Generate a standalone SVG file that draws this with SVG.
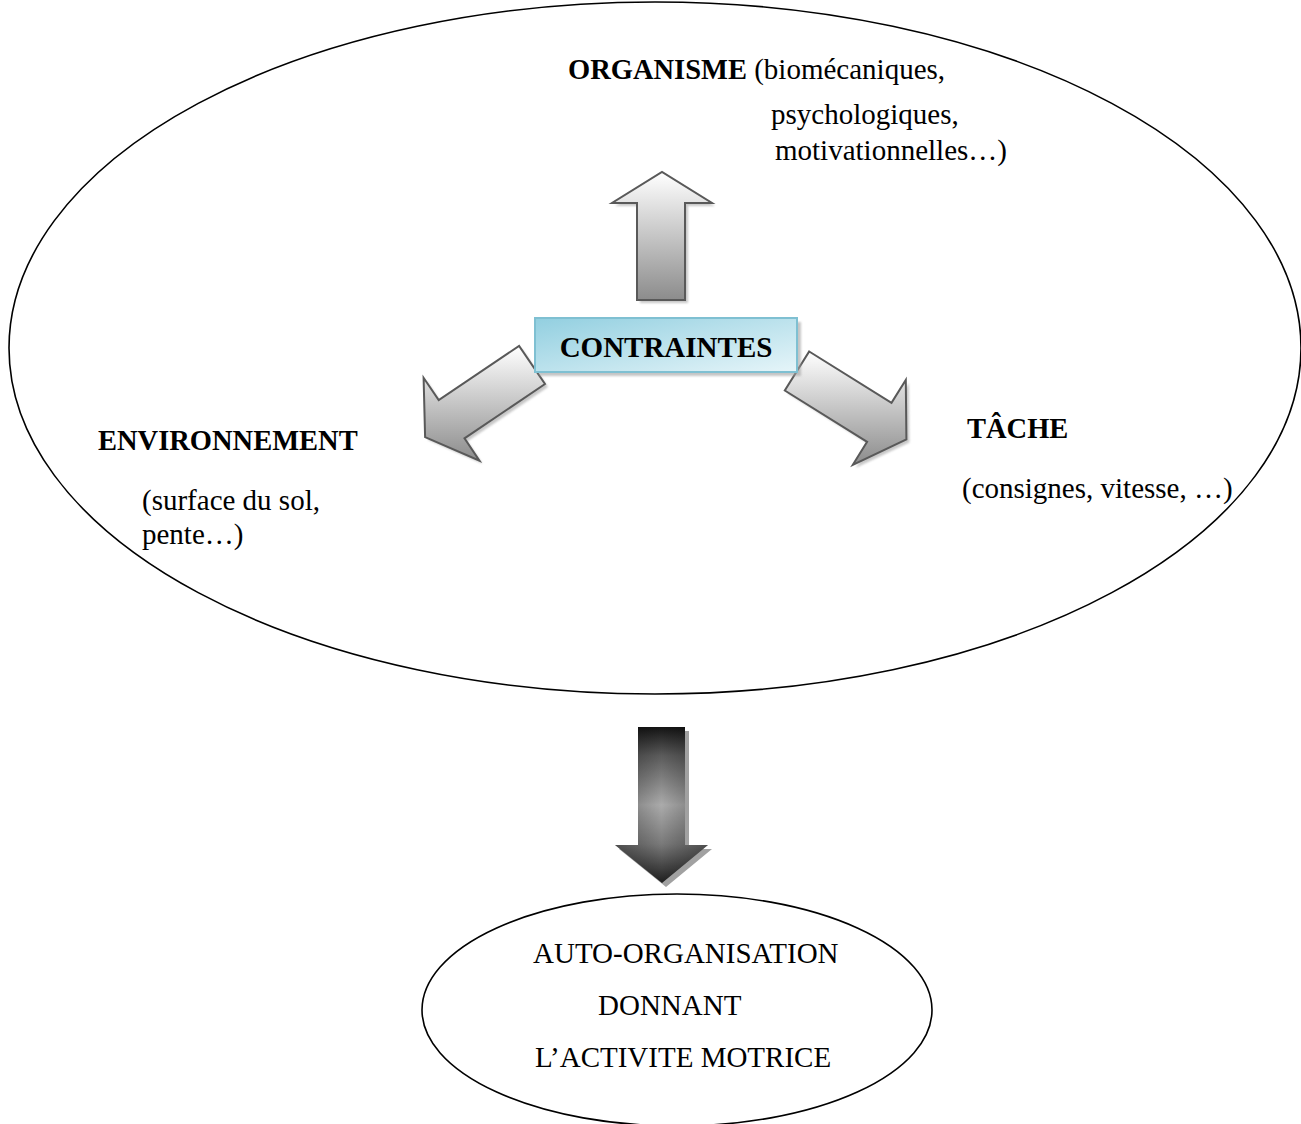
<svg xmlns="http://www.w3.org/2000/svg" width="1301" height="1124" viewBox="0 0 1301 1124">
<style>
text{font-family:"Liberation Serif","Times New Roman",serif;font-size:29px;fill:#000}
.b{font-weight:bold;font-size:28.5px}
.ell{fill:none;stroke:#000;stroke-width:1.6}
.arr{fill:url(#g1);stroke:#595959;stroke-width:2;stroke-linejoin:miter}
.sh{fill:#9a9a9a;opacity:.55;filter:url(#blur)}
</style>
<defs>
<linearGradient id="g1" x1="0" y1="0" x2="0" y2="1">
<stop offset="0" stop-color="#ffffff"/>
<stop offset="1" stop-color="#8c8c8c"/>
</linearGradient>
<linearGradient id="gbox" x1="0" y1="0" x2="1" y2="1">
<stop offset="0" stop-color="#92cfe0"/>
<stop offset="1" stop-color="#e6f5f9"/>
</linearGradient>
<linearGradient id="gdown" x1="0" y1="0" x2="0" y2="1">
<stop offset="0" stop-color="#141414"/>
<stop offset="0.18" stop-color="#5a5a5a"/>
<stop offset="0.5" stop-color="#ababab"/>
<stop offset="0.75" stop-color="#7a7a7a"/>
<stop offset="1" stop-color="#1e1e1e"/>
</linearGradient>
<linearGradient id="gdownh" x1="0" y1="0" x2="1" y2="0">
<stop offset="0" stop-color="#000" stop-opacity="0.35"/>
<stop offset="0.5" stop-color="#000" stop-opacity="0"/>
<stop offset="1" stop-color="#000" stop-opacity="0.35"/>
</linearGradient>
<filter id="blur" x="-10%" y="-10%" width="120%" height="120%"><feGaussianBlur stdDeviation="1.2"/></filter>
</defs>

<g id="outer-ellipse"><ellipse class="ell" cx="655" cy="348" rx="646" ry="346"/></g>

<g id="connectors">
<g id="arrow-up">
<polygon class="sh" points="640,303 640,206 615,206 665,175 715,206 688,206 688,303"/>
<polygon class="arr" points="637,300 637,203 612,203 662,172 712,203 685,203 685,300"/>
</g>
<g id="arrow-left">
<polygon class="sh" points="548,387 467.5,441.3 482.5,463.7 428.1,440.1 426.6,380.8 441.7,403.1 522.1,348.9"/>
<polygon class="arr" points="545,384 464.5,438.3 479.5,460.7 425.1,437.1 423.6,377.8 438.7,400.1 519.1,345.9"/>
</g>
<g id="arrow-right">
<polygon class="sh" points="812.2,354.5 894.5,405.9 908.8,383 909.4,442.4 855.8,467.8 870.1,444.9 787.8,393.5"/>
<polygon class="arr" points="809.2,351.5 891.5,402.9 905.8,380 906.4,439.4 852.8,464.8 867.1,441.9 784.8,390.5"/>
</g>
<g id="arrow-down">
<polygon fill="#8a8a8a" opacity="0.8" points="642,731 689,731 689,849 712,849 666,887 619,849 642,849"/>
<polygon fill="url(#gdown)" points="638,727 685,727 685,845 708,845 662,883 615,845 638,845"/>
<polygon fill="url(#gdownh)" points="638,727 685,727 685,845 708,845 662,883 615,845 638,845"/>
</g>
</g>

<g id="contraintes">
<rect x="539" y="322" width="262" height="54" fill="#a0a0a0" opacity="0.6" filter="url(#blur)"/>
<rect x="535" y="318" width="262" height="54" fill="url(#gbox)" stroke="#7fc0d2" stroke-width="2"/>
<text class="b" x="666" y="357" text-anchor="middle" style="font-size:29px">CONTRAINTES</text>
</g>

<g id="organisme">
<text x="568" y="79"><tspan class="b">ORGANISME</tspan> (biomécaniques,</text>
<text x="771" y="124">psychologiques,</text>
<text x="775" y="160">motivationnelles…)</text>
</g>

<g id="environnement">
<text class="b" x="98" y="450">ENVIRONNEMENT</text>
<text x="142" y="510">(surface du sol,</text>
<text x="142" y="544">pente…)</text>
</g>

<g id="tache">
<text class="b" x="967" y="438">TÂCHE</text>
<text x="962" y="498">(consignes, vitesse, …)</text>
</g>

<g id="auto-organisation">
<ellipse class="ell" cx="677" cy="1010" rx="255" ry="116"/>
<text x="533" y="963">AUTO-ORGANISATION</text>
<text x="598" y="1015">DONNANT</text>
<text x="535" y="1067">L’ACTIVITE MOTRICE</text>
</g>
</svg>
